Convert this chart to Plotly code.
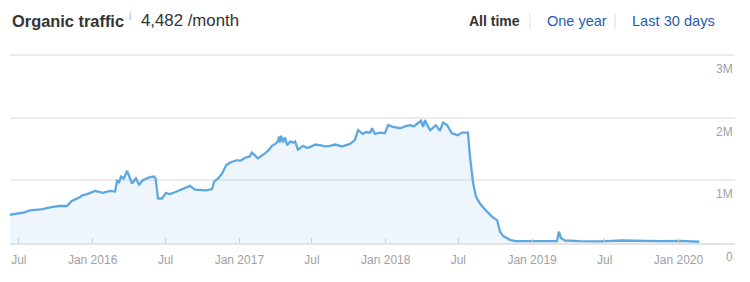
import plotly.graph_objects as go

# ---- data ----
dates = [
    "2015-06-09", "2015-06-20", "2015-07-04", "2015-07-15", "2015-07-29", "2015-08-08",
    "2015-08-15", "2015-08-30", "2015-09-08", "2015-09-16", "2015-09-28", "2015-10-11",
    "2015-10-29", "2015-11-10", "2015-11-15", "2015-11-20", "2015-11-30", "2015-12-06",
    "2015-12-18", "2015-12-28", "2016-01-07", "2016-01-27", "2016-02-05", "2016-02-13",
    "2016-02-26", "2016-03-02", "2016-03-07", "2016-03-12", "2016-03-19", "2016-03-27",
    "2016-04-01", "2016-04-08", "2016-04-18", "2016-04-26", "2016-05-05", "2016-05-23",
    "2016-06-02", "2016-06-06", "2016-06-12", "2016-06-22", "2016-07-02", "2016-07-10",
    "2016-07-17", "2016-08-01", "2016-08-15", "2016-08-31", "2016-09-12", "2016-09-25",
    "2016-10-10", "2016-10-25", "2016-10-30", "2016-11-09", "2016-11-19", "2016-11-29",
    "2016-12-08", "2016-12-16", "2016-12-26", "2017-01-03", "2017-01-15", "2017-01-27",
    "2017-02-01", "2017-02-08", "2017-02-16", "2017-03-06", "2017-03-15", "2017-03-23",
    "2017-04-01", "2017-04-07", "2017-04-10", "2017-04-12", "2017-04-15", "2017-04-18",
    "2017-04-20", "2017-04-25", "2017-04-30", "2017-05-08", "2017-05-15", "2017-05-20",
    "2017-05-27", "2017-06-09", "2017-06-18", "2017-06-26", "2017-07-10", "2017-07-21",
    "2017-08-02", "2017-08-15", "2017-08-28", "2017-09-14", "2017-10-04", "2017-10-16",
    "2017-10-24", "2017-11-05", "2017-11-14", "2017-11-23", "2017-11-28", "2017-12-05",
    "2017-12-18", "2017-12-30", "2018-01-07", "2018-01-19", "2018-02-06", "2018-02-18",
    "2018-03-03", "2018-03-12", "2018-03-23", "2018-03-30", "2018-04-04", "2018-04-09",
    "2018-04-15", "2018-04-22", "2018-05-06", "2018-05-16", "2018-05-24", "2018-06-03",
    "2018-06-15", "2018-06-30", "2018-07-10", "2018-07-25", "2018-07-30", "2018-08-07",
    "2018-08-14", "2018-08-24", "2018-09-06", "2018-09-23", "2018-10-06", "2018-10-13",
    "2018-10-21", "2018-11-07", "2018-11-20", "2018-12-27", "2019-02-03", "2019-03-04",
    "2019-03-09", "2019-03-14", "2019-03-24", "2019-04-30", "2019-06-19", "2019-08-13",
    "2019-09-27", "2019-11-16", "2020-01-05", "2020-01-30", "2020-02-22",
]
traffic = [
    450000, 460000, 480000, 490000, 520000, 525000,
    530000, 540000, 555000, 570000, 580000, 590000,
    590000, 670000, 690000, 700000, 730000, 760000,
    780000, 800000, 830000, 800000, 820000, 830000,
    820000, 990000, 970000, 1060000, 1030000, 1150000,
    1070000, 950000, 1030000, 930000, 1000000, 1050000,
    1060000, 1030000, 710000, 710000, 800000, 780000,
    790000, 830000, 870000, 910000, 850000, 840000,
    840000, 860000, 980000, 1030000, 1110000, 1240000,
    1280000, 1300000, 1320000, 1310000, 1360000, 1380000,
    1440000, 1400000, 1350000, 1430000, 1480000, 1550000,
    1580000, 1620000, 1700000, 1600000, 1710000, 1640000,
    1620000, 1680000, 1560000, 1620000, 1600000, 1620000,
    1490000, 1550000, 1520000, 1530000, 1570000, 1560000,
    1540000, 1550000, 1570000, 1540000, 1580000, 1640000,
    1800000, 1740000, 1770000, 1760000, 1830000, 1740000,
    1760000, 1750000, 1880000, 1850000, 1830000, 1860000,
    1880000, 1860000, 1910000, 1950000, 1850000, 1960000,
    1870000, 1800000, 1880000, 1790000, 1920000, 1880000,
    1750000, 1720000, 1760000, 1760000, 1380000, 950000,
    740000, 630000, 530000, 420000, 360000, 180000,
    110000, 50000, 30000, 25000, 30000, 30000,
    180000, 80000, 40000, 30000, 25000, 40000,
    30000, 30000, 35000, 25000, 20000,
]

x_tick_dates = ["2015-07-01", "2016-01-01", "2016-07-01", "2017-01-01", "2017-07-01",
                "2018-01-01", "2018-07-01", "2019-01-01", "2019-07-01", "2020-01-01"]
x_tick_labels = ["Jul", "Jan 2016", "Jul", "Jan 2017", "Jul",
                 "Jan 2018", "Jul", "Jan 2019", "Jul", "Jan 2020"]
y_tick_values = [0, 1000000, 2000000, 3000000]
y_tick_labels = ["0", "1M", "2M", "3M"]

# ---- figure ----
W, H = 750, 282
ML, MR, MT, MB = 10, 15, 53, 39
PW, PH = W - ML - MR, H - MT - MB
FONT = "Arial, Liberation Sans, Helvetica, sans-serif"


def px(x):
    return (x - ML) / PW


def py(y):
    return (H - MB - y) / PH


fig = go.Figure()
fig.add_trace(go.Scatter(
    x=dates, y=traffic, mode="lines",
    line=dict(color="#5ea8e2", width=2.3),
    fill="tozeroy", fillcolor="rgba(120,175,230,0.12)",
    hoverinfo="skip", showlegend=False,
))

annotations = []
for v, t in zip(y_tick_values, y_tick_labels):
    annotations.append(dict(
        x=1.0, xref="paper", y=v, yref="y", text=t, showarrow=False,
        xanchor="right", yanchor="middle", yshift=-14,
        font=dict(family=FONT, size=12, color="#a0a0a0"),
    ))

# header
annotations += [
    dict(x=px(10), y=py(21), xref="paper", yref="paper", text="<b>Organic traffic</b>",
         showarrow=False, xanchor="left", yanchor="middle",
         font=dict(family=FONT, size=16.4, color="#333333")),
    dict(x=px(127), y=py(16), xref="paper", yref="paper", text="i",
         showarrow=False, xanchor="left", yanchor="middle",
         font=dict(family=FONT, size=10, color="#aaaaaa")),
    dict(x=px(139), y=py(21), xref="paper", yref="paper", text="4,482 /month",
         showarrow=False, xanchor="left", yanchor="middle",
         font=dict(family=FONT, size=16.8, color="#333333")),
    dict(x=px(467), y=py(21), xref="paper", yref="paper", text="<b>All time</b>",
         showarrow=False, xanchor="left", yanchor="middle",
         font=dict(family=FONT, size=14, color="#333333")),
    dict(x=px(545), y=py(21), xref="paper", yref="paper", text="One year",
         showarrow=False, xanchor="left", yanchor="middle",
         font=dict(family=FONT, size=14.5, color="#1f5bb0")),
    dict(x=px(630), y=py(21), xref="paper", yref="paper", text="Last 30 days",
         showarrow=False, xanchor="left", yanchor="middle",
         font=dict(family=FONT, size=14.6, color="#1f5bb0")),
]

shapes = [
    dict(type="line", xref="paper", yref="paper", x0=px(530), x1=px(530),
         y0=py(13), y1=py(29), line=dict(color="#dddddd", width=1)),
    dict(type="line", xref="paper", yref="paper", x0=px(615), x1=px(615),
         y0=py(13), y1=py(29), line=dict(color="#dddddd", width=1)),
]

fig.update_layout(
    width=W, height=H,
    margin=dict(l=ML, r=MR, t=MT, b=MB, pad=0),
    paper_bgcolor="white", plot_bgcolor="white",
    font=dict(family=FONT, size=12, color="#a0a0a0"),
    showlegend=False,
    annotations=annotations,
    shapes=shapes,
    xaxis=dict(
        type="date",
        range=["2015-06-09", "2020-05-21"],
        tickvals=x_tick_dates, ticktext=x_tick_labels,
        ticks="inside", ticklen=5, tickcolor="#d0d0d0", tickwidth=1,
        showgrid=False, zeroline=False,
        showline=True, linecolor="#e3e3e3", linewidth=1.5,
        tickfont=dict(family=FONT, size=12, color="#a0a0a0"),
        ticklabelstandoff=5,
        fixedrange=True,
    ),
    yaxis=dict(
        range=[0, 3030000],
        tickvals=y_tick_values,
        showticklabels=False,
        showgrid=True, gridcolor="#ececec", gridwidth=1.5,
        zeroline=False, showline=False,
        fixedrange=True,
    ),
)

fig.write_html("out.html")
